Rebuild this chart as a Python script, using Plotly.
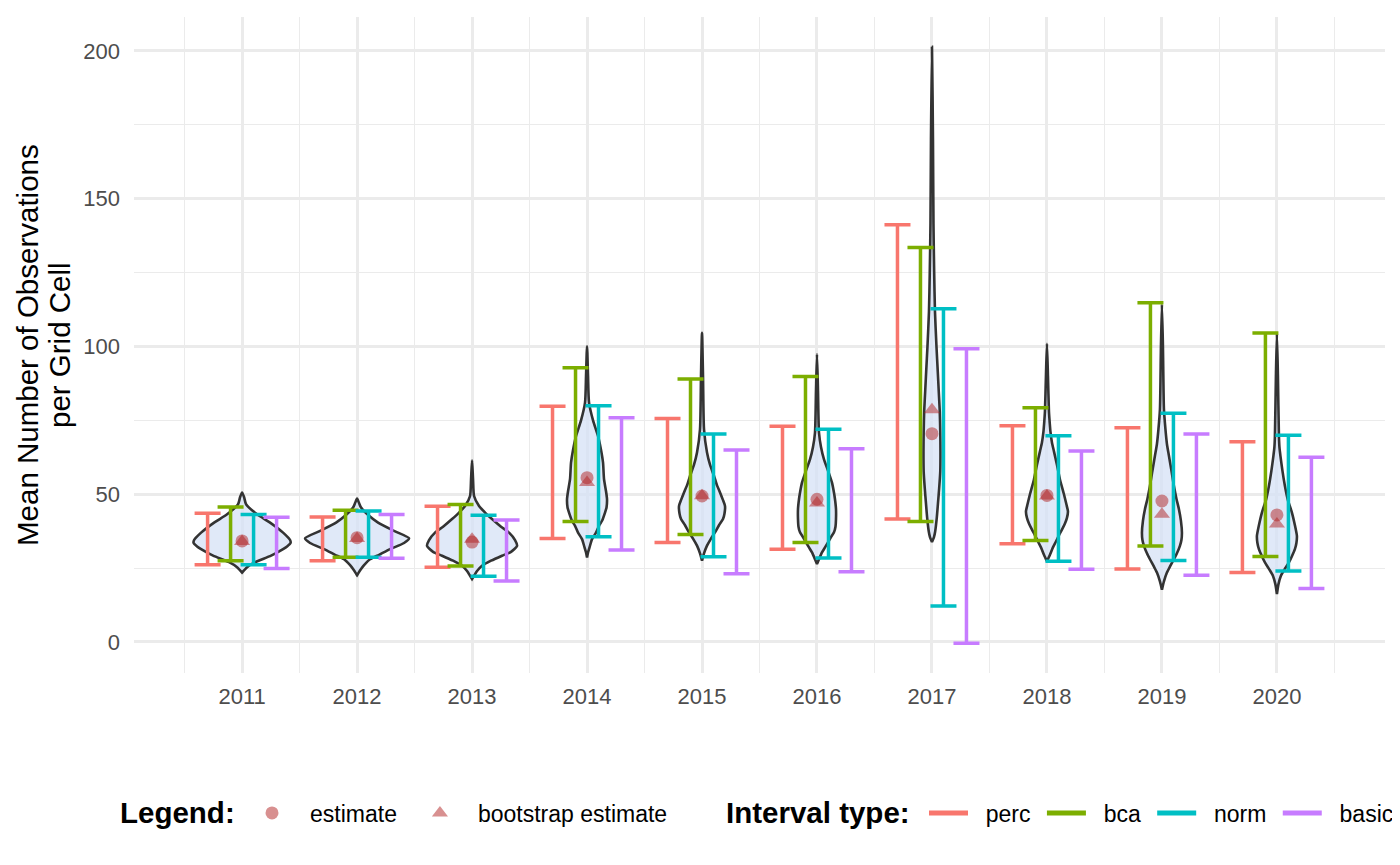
import plotly.graph_objects as go

years = [2011, 2012, 2013, 2014, 2015, 2016, 2017, 2018, 2019, 2020]

estimate = [34.2, 35.3, 33.8, 55.6, 49.4, 48.3, 70.5, 49.6, 47.7, 43.0]
boot_estimate = [34.0, 35.0, 34.8, 54.0, 49.5, 47.0, 78.6, 49.4, 43.2, 39.9]

perc_lo = [26.1, 27.5, 25.3, 35.0, 33.7, 31.4, 41.6, 33.2, 24.7, 23.5]
perc_hi = [43.6, 42.3, 45.9, 79.8, 75.6, 73.0, 141.2, 73.2, 72.5, 67.8]
bca_lo = [27.5, 28.7, 25.7, 40.8, 36.4, 33.7, 40.8, 34.3, 32.5, 28.9]
bca_hi = [45.7, 44.6, 46.5, 92.8, 89.0, 89.8, 133.5, 79.3, 114.8, 104.6]
norm_lo = [26.1, 28.7, 22.2, 35.6, 28.8, 28.4, 12.2, 27.3, 27.6, 24.0]
norm_hi = [43.1, 44.3, 42.9, 79.9, 70.4, 72.0, 112.8, 69.8, 77.4, 70.0]
basic_lo = [24.9, 28.3, 20.6, 31.1, 23.1, 23.8, -0.4, 24.6, 22.6, 18.1]
basic_hi = [42.2, 43.1, 41.3, 75.9, 65.0, 65.4, 99.2, 64.6, 70.4, 62.5]

y_ticks = [0, 50, 100, 150, 200]
y_title_lines = ["Mean Number of Observations", "per Grid Cell"]

# violin density profiles: (value, relative density), top to bottom
violin_2011 = [(50.6, 0), (49, 2), (46.6, 4), (43.2, 15), (40.4, 28), (37.0, 41), (34.5, 48), (33.5, 48.5),
               (32.3, 45), (31.4, 41), (29.2, 29), (27.0, 13), (25.3, 5), (23.5, 0)]
violin_2012 = [(48.5, 0), (47, 2), (45.5, 4), (42.7, 12), (40.4, 21), (37.6, 37), (35.1, 52), (33.5, 47),
               (31.4, 33), (29.5, 22), (28.0, 13), (26, 7), (24.7, 4), (22.6, 0)]
violin_2013 = [(61.5, 0), (55, 1), (49.4, 2), (46.0, 7), (43.8, 13), (41.6, 20), (39, 29), (37.0, 37),
               (34.5, 43), (32.5, 45), (30.5, 39), (29.2, 30), (27.5, 19), (25.8, 10), (24, 5), (22.4, 2),
               (21.3, 0)]
violin_2014 = [(100.1, 0), (90, 1), (81, 2), (75, 6), (69.7, 11), (65, 14), (60.7, 16), (55.1, 17), (51, 19),
               (48.3, 20), (45.5, 19.5), (43.8, 18), (41, 15), (39.3, 12), (37, 9), (34.8, 5), (32, 2.5),
               (30.3, 1), (28.6, 0)]
violin_2015 = [(104.6, 0), (90, 1), (72, 2), (64.1, 5), (60, 8), (56.2, 12), (53, 15), (50.6, 18), (48, 21),
               (46.0, 23), (43.5, 22.5), (41.6, 21), (39.5, 17), (37.1, 13), (35, 9), (32.6, 5), (30, 2),
               (27.5, 0)]
violin_2016 = [(97.4, 0), (85, 1), (70.8, 2), (66, 4), (61.8, 7), (58, 11), (53.9, 15), (50.5, 17), (48.3, 18),
               (45, 19), (41.6, 19), (39, 18.5), (37.1, 17), (35.5, 14), (33.7, 11), (32, 8), (30.3, 5),
               (28, 2), (26.4, 0)]
violin_2017 = [(201.4, 0), (170, 1), (141.5, 1.5), (125, 2.2), (111.8, 3), (100, 4.5), (91.5, 5.8),
               (84.7, 6.8), (78, 7.8), (71, 8.3), (64.5, 8.5), (57.7, 8.3), (52, 7.2), (46.9, 6), (42, 4.8),
               (37.4, 3.2), (35.5, 2), (33.8, 0)]
violin_2018 = [(100.9, 0), (90, 1), (78, 2), (74, 2.8), (71.2, 3.5), (67.5, 5), (64.5, 7), (60, 10), (55, 13),
               (50, 17), (46.5, 19.5), (44.2, 21), (42, 20), (40.1, 18), (38, 15), (36.1, 12), (34, 9),
               (32, 6), (29.5, 3), (27.3, 0)]
violin_2019 = [(114.2, 0), (100, 1), (78.7, 2), (72, 3.5), (67, 5), (63, 7), (58, 9.5), (52.8, 12),
               (48.5, 14.5), (44.9, 17), (41, 19), (37, 20), (34.5, 19.5), (32.5, 18), (30, 15), (28, 12),
               (25.5, 8), (23.5, 5), (20.5, 2), (17.7, 0)]
violin_2020 = [(104.4, 0), (90, 1), (69.7, 2), (66, 2.5), (63, 3.5), (58, 5.5), (52.8, 8), (48, 11),
               (43.8, 15), (39.5, 18), (35.9, 20), (33.5, 19.5), (31.4, 18), (29, 15), (26.9, 12),
               (24.5, 7.5), (22.4, 4), (19.5, 1.5), (16.2, 0)]
violins = [violin_2011, violin_2012, violin_2013, violin_2014, violin_2015,
           violin_2016, violin_2017, violin_2018, violin_2019, violin_2020]

interval_types = ["perc", "bca", "norm", "basic"]
interval_lo = [perc_lo, bca_lo, norm_lo, basic_lo]
interval_hi = [perc_hi, bca_hi, norm_hi, basic_hi]

# styles
COLORS = {"perc": "#F8766D", "bca": "#7CAE00", "norm": "#00BFC4", "basic": "#C77CFF"}
DODGE = {"perc": -0.3, "bca": -0.1, "norm": 0.1, "basic": 0.3}
VIOLIN_SCALE = 1 / 115.0
POINT_COLOR = "rgba(178,34,34,0.5)"
FONT = "Liberation Sans, Arial, Helvetica, sans-serif"
NBSP = "\u00a0"
# page body has an 8px margin: figure occupies screen x 8..1400, y 8..865
W, H = 1392, 857
ML, MR, MT, MB = 126, 15, 9, 192
PW = W - ML - MR
PH = H - MT - MB
OFF = 8  # body margin


def px_x(screen_x):
    return (screen_x - OFF - ML) / PW


def px_y(screen_y):
    return 1 - (screen_y - OFF - MT) / PH


fig = go.Figure()

# violins
for yr, prof in zip(years, violins):
    vals = [p[0] for p in prof]
    dens = [p[1] for p in prof]
    xs = [yr + d * VIOLIN_SCALE for d in dens] + [yr - d * VIOLIN_SCALE for d in reversed(dens)]
    ys = vals + list(reversed(vals))
    fig.add_trace(go.Scatter(
        x=xs, y=ys, mode="lines", fill="toself",
        fillcolor="rgba(214,225,245,0.75)",
        line=dict(color="#333333", width=2.6, shape="spline", smoothing=0.6),
        showlegend=False, hoverinfo="skip"))

# interval error bars
for name, lo, hi in zip(interval_types, interval_lo, interval_hi):
    mid = [(a + b) / 2 for a, b in zip(lo, hi)]
    half = [(b - a) / 2 for a, b in zip(lo, hi)]
    fig.add_trace(go.Scatter(
        x=[y + DODGE[name] for y in years], y=mid, mode="markers",
        marker=dict(size=1, opacity=0),
        error_y=dict(type="data", symmetric=True, array=half, color=COLORS[name],
                     thickness=3.5, width=13),
        showlegend=False, hoverinfo="skip"))

# points
fig.add_trace(go.Scatter(
    x=years, y=estimate, mode="markers", name="estimate",
    marker=dict(symbol="circle", size=13, color=POINT_COLOR),
    legend="legend"))
fig.add_trace(go.Scatter(
    x=years, y=boot_estimate, mode="markers", name="bootstrap estimate",
    marker=dict(symbol="triangle-up", size=14, color=POINT_COLOR),
    legend="legend"))

# legend entries for intervals
for i, name in enumerate(interval_types):
    label = NBSP * 2 + name + (NBSP if i < len(interval_types) - 1 else "")
    fig.add_trace(go.Scatter(
        x=[None], y=[None], mode="lines", name=label,
        line=dict(color=COLORS[name], width=5),
        legend="legend2"))

# y-axis title as two rotated lines
for txt, sx in zip(y_title_lines, [27, 59]):
    fig.add_annotation(
        text=txt, textangle=-90, xref="paper", yref="paper",
        x=px_x(sx), y=0.5, xanchor="center", yanchor="middle",
        showarrow=False, font=dict(size=29.5, color="#000000", family=FONT))

# legend titles
for txt, sx in zip(["<b>Legend:</b>", "<b>Interval type:</b>"], [118, 724]):
    fig.add_annotation(
        text=txt, xref="paper", yref="paper", x=px_x(sx), y=px_y(812),
        xanchor="left", yanchor="middle", showarrow=False,
        font=dict(size=29.5, color="#000000", family=FONT))

fig.update_layout(
    width=W, height=H,
    margin=dict(l=ML, r=MR, t=MT, b=MB, autoexpand=False),
    paper_bgcolor="white", plot_bgcolor="white",
    font=dict(family=FONT, size=22, color="#000000"),
    xaxis=dict(
        range=[2010.06, 2020.94], tickmode="array", tickvals=years,
        ticktext=[str(y) for y in years], automargin=False,
        showgrid=True, gridcolor="#ebebeb", gridwidth=2.6, zeroline=False,
        showline=False, ticks="", tickfont=dict(size=22, color="#4d4d4d"),
        ticklabelstandoff=8,
        minor=dict(showgrid=True, gridcolor="#ebebeb", gridwidth=1.3, tick0=2010.5, dtick=1),
    ),
    yaxis=dict(
        range=[-10.5, 211.5], tickmode="array", tickvals=y_ticks, automargin=False,
        showgrid=True, gridcolor="#ebebeb", gridwidth=2.6, zeroline=False,
        showline=False, ticks="", tickfont=dict(size=22, color="#4d4d4d"),
        ticklabelstandoff=13,
        minor=dict(showgrid=True, gridcolor="#ebebeb", gridwidth=1.3, tick0=25, dtick=50),
    ),
    legend=dict(
        orientation="h", x=px_x(234), xanchor="left", y=px_y(813), yanchor="middle",
        font=dict(size=23), bgcolor="rgba(0,0,0,0)", itemwidth=66,
    ),
    legend2=dict(
        orientation="h", x=px_x(924), xanchor="left", y=px_y(813), yanchor="middle",
        font=dict(size=23), bgcolor="rgba(0,0,0,0)", itemwidth=39,
    ),
)

fig.write_html("out.html")
